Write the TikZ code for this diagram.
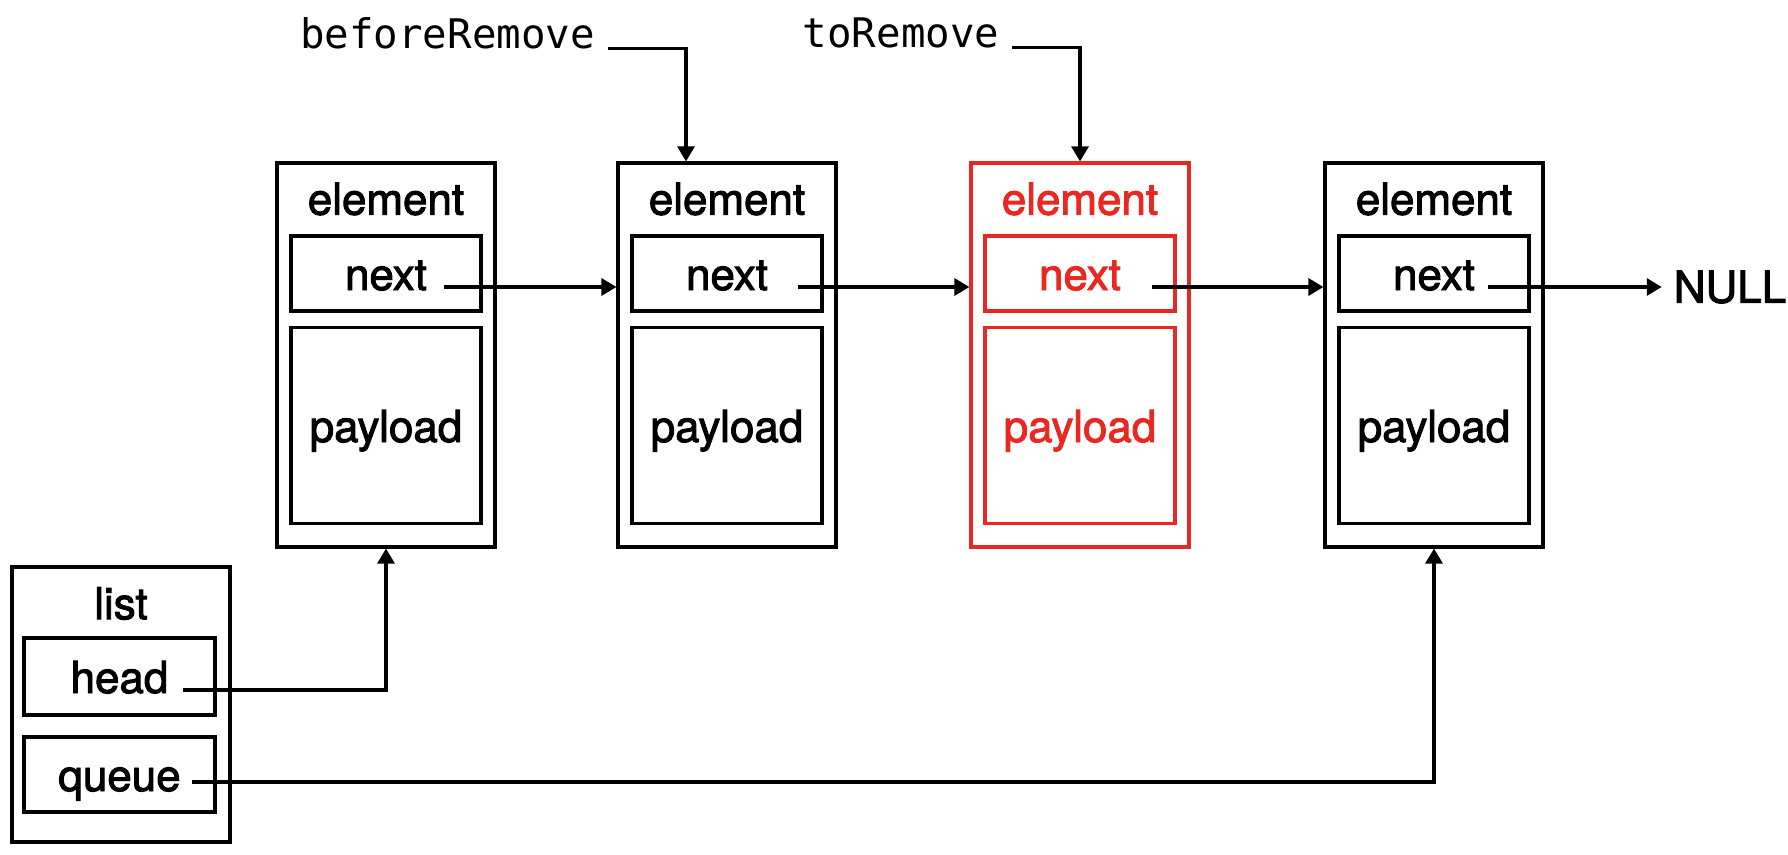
\documentclass[tikz,border=0pt]{standalone}
\usepackage{fontspec}
\setmainfont{TeX Gyre Heros}[RawFeature={embolden=2.2}]
\setmonofont{DejaVu Sans Mono}
\usetikzlibrary{arrows.meta}

\definecolor{delred}{RGB}{232,40,33}

\tikzset{
  elem/.style={draw, minimum width=2.18cm, minimum height=3.84cm, inner sep=0pt},
  field/.style={draw, minimum width=1.90cm, minimum height=0.75cm, inner sep=0pt,
    text height=0.33cm, text depth=0pt},
  loadbox/.style={field, minimum height=1.96cm},
  ptr/.style={font=\ttfamily\fontsize{11.6}{14}\selectfont}
}

\begin{document}
\begin{tikzpicture}[>={Triangle[length=1.5mm,width=1.7mm]}, line width=0.9pt, font=\fontsize{12.5}{15}\selectfont]
\useasboundingbox (0,0) rectangle (17.88,8.54);

\node[elem](e1) at (3.86,4.99) {};
\node(t1) at (3.86,6.55) {element};
\node[field](n1) at (3.86,5.805) {next};
\node[loadbox](p1) at (3.86,4.285) {payload};

\node[elem](e2) at (7.27,4.99) {};
\node(t2) at (7.27,6.55) {element};
\node[field](n2) at (7.27,5.805) {next};
\node[loadbox](p2) at (7.27,4.285) {payload};

\node[elem, draw=delred](e3) at (10.80,4.99) {};
\node[text=delred](t3) at (10.80,6.55) {element};
\node[field, draw=delred, text=delred](n3) at (10.80,5.805) {next};
\node[loadbox, draw=delred, text=delred](p3) at (10.80,4.285) {payload};

\node[elem](e4) at (14.34,4.99) {};
\node(t4) at (14.34,6.55) {element};
\node[field](n4) at (14.34,5.805) {next};
\node[loadbox](p4) at (14.34,4.285) {payload};

\node[inner sep=3pt](null) at (17.30,5.67) {NULL};

\node[elem, minimum height=2.75cm](list) at (1.21,1.495) {};
\node(tl) at (1.21,2.505) {list};
\node[field, minimum width=1.91cm, minimum height=0.77cm](head) at (1.195,1.775) {head};
\node[field, minimum width=1.91cm](queue) at (1.195,0.795) {queue};

\node[ptr](before) at (4.475,8.21) {beforeRemove};
\node[ptr](toremove) at (9.01,8.21) {toRemove};

\coordinate (s1) at ([xshift=0.575cm, yshift=-0.135cm]n1.center);
\coordinate (s2) at ([xshift=0.71cm, yshift=-0.135cm]n2.center);
\coordinate (s3) at ([xshift=0.72cm, yshift=-0.135cm]n3.center);
\coordinate (s4) at ([xshift=0.54cm, yshift=-0.135cm]n4.center);
\coordinate (hd) at ([xshift=0.635cm, yshift=-0.135cm]head.center);
\coordinate (qu) at ([xshift=0.725cm, yshift=-0.075cm]queue.center);

\draw[->] (s1) -- (s1 -| e2.west);
\draw[->] (s2) -- (s2 -| e3.west);
\draw[->] (s3) -- (s3 -| e4.west);
\draw[->] (s4) -- (null.west);

\draw[->] (hd) -| (e1.south);
\draw[->] (qu) -| (e4.south);

\draw[->] (before.base east) -| ([xshift=-0.41cm]e2.north);
\draw[->] (toremove.base east) -| (e3.north);

\end{tikzpicture}
\end{document}
